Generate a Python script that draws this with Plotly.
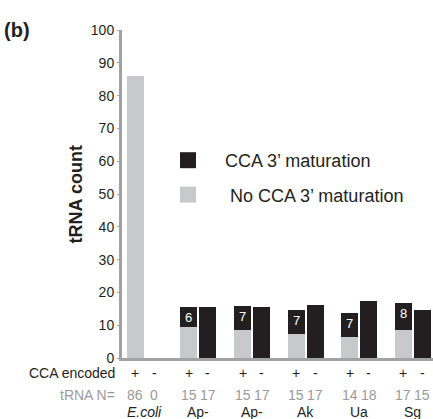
import plotly.graph_objects as go

# ---- data ----
strains = ["E.coli", "Ap-", "Ap-", "Ak", "Ua", "Sg"]
cca_plus_label = ["+", "+", "+", "+", "+", "+"]
cca_minus_label = ["-", "-", "-", "-", "-", "-"]
n_plus = [86, 15, 15, 15, 14, 17]
n_minus = [0, 17, 17, 17, 18, 15]
# "+" (CCA encoded) bars: stacked
plus_no_mat = [86, 9.5, 8.5, 7.2, 6.3, 8.5]
plus_mat = [0, 6.1, 7.4, 7.4, 7.3, 8.3]
plus_mat_text = ["", "6", "7", "7", "7", "8"]
# "-" (not encoded) bars
minus_mat = [0, 15.6, 15.6, 16.2, 17.5, 14.6]
y_ticks = [0, 10, 20, 30, 40, 50, 60, 70, 80, 90, 100]

BLACK = "#231f20"
GRAY = "#c8c9cb"
AXIS = "#a2a2a2"
NGRAY = "#9a9a9a"
FONT = "Liberation Sans, Arial, Helvetica, sans-serif"

BW = 0.318
OFF = 0.1776
idx = list(range(len(strains)))
x_plus = [i - OFF for i in idx]
x_minus = [i + OFF for i in idx]

fig = go.Figure()
fig.add_bar(x=x_plus, y=plus_no_mat, width=BW, marker=dict(color=GRAY, line=dict(width=0)),
            showlegend=False, hoverinfo="skip")
fig.add_bar(x=x_plus, y=plus_mat, width=BW, marker=dict(color=BLACK, line=dict(width=0)),
            text=plus_mat_text, textposition="inside", insidetextanchor="end", textangle=0,
            textfont=dict(color="white", size=13, family=FONT), constraintext="none",
            showlegend=False, hoverinfo="skip")
fig.add_bar(x=x_minus, y=minus_mat, width=BW, marker=dict(color=BLACK, line=dict(width=0)),
            showlegend=False, hoverinfo="skip")

# legend entries
fig.add_scatter(x=[None], y=[None], mode="markers", name="CCA 3\u2019 maturation",
                marker=dict(symbol="square", size=16, color=BLACK), legendgroup="a")
fig.add_scatter(x=[None], y=[None], mode="markers", name=" No CCA 3\u2019 maturation",
                marker=dict(symbol="square", size=16, color=GRAY), legendgroup="b")

ann = []
# row labels
ann.append(dict(x=-0.0145, y=-0.0466, xref="paper", yref="paper", text="CCA encoded",
                showarrow=False, xanchor="right", yanchor="middle",
                font=dict(size=14, color=BLACK, family=FONT)))
ann.append(dict(x=-0.0145, y=-0.1138, xref="paper", yref="paper", text="tRNA N=",
                showarrow=False, xanchor="right", yanchor="middle",
                font=dict(size=14, color=NGRAY, family=FONT)))
for i in idx:
    for xv, s, n in ((x_plus[i], cca_plus_label[i], n_plus[i]), (x_minus[i], cca_minus_label[i], n_minus[i])):
        ann.append(dict(x=xv, y=-0.0466, xref="x", yref="paper", text=s, showarrow=False,
                        xanchor="center", yanchor="middle", font=dict(size=14, color=BLACK, family=FONT)))
        ann.append(dict(x=xv, y=-0.1138, xref="x", yref="paper", text=str(n), showarrow=False,
                        xanchor="center", yanchor="middle", font=dict(size=14, color=NGRAY, family=FONT)))
    name = strains[i]
    if name == "E.coli":
        name = "<i>" + name + "</i>"
    ann.append(dict(x=i, y=-0.1657, xref="x", yref="paper", text=name, showarrow=False,
                    xanchor="center", yanchor="middle", font=dict(size=14, color=BLACK, family=FONT)))
# y title
ann.append(dict(x=-0.1465, y=0.5, xref="paper", yref="paper", text="<b>tRNA count</b>",
                textangle=-90, showarrow=False, xanchor="center", yanchor="middle",
                font=dict(size=18, color=BLACK, family=FONT)))
# panel label
ann.append(dict(x=-0.386, y=1.0, xref="paper", yref="paper", text="<b>(b)</b>",
                showarrow=False, xanchor="left", yanchor="middle",
                font=dict(size=20, color=BLACK, family=FONT)))

fig.update_layout(
    width=433, height=419, autosize=False,
    margin=dict(l=122, r=0, t=30, b=61, pad=0),
    paper_bgcolor="white", plot_bgcolor="white",
    barmode="stack", bargap=0,
    font=dict(family=FONT, color=BLACK),
    xaxis=dict(range=[-0.4267, 5.377], showline=True, linecolor=AXIS, linewidth=3,
               showticklabels=False, ticks="", showgrid=False, zeroline=False, fixedrange=True),
    yaxis=dict(range=[0, 100], tickvals=y_ticks, showline=True, linecolor=AXIS, linewidth=3,
               ticks="outside", ticklen=2, tickwidth=1, tickcolor=AXIS,
               tickfont=dict(size=14, color=BLACK, family=FONT),
               showgrid=False, zeroline=False, fixedrange=True),
    legend=dict(x=(151 - 122) / 311, y=(358 - 142) / 328, xanchor="left", yanchor="top",
                font=dict(size=18, color=BLACK, family=FONT), itemwidth=64,
                tracegroupgap=8, bgcolor="rgba(0,0,0,0)", traceorder="grouped"),
    annotations=ann,
)

fig.write_html("out.html")
